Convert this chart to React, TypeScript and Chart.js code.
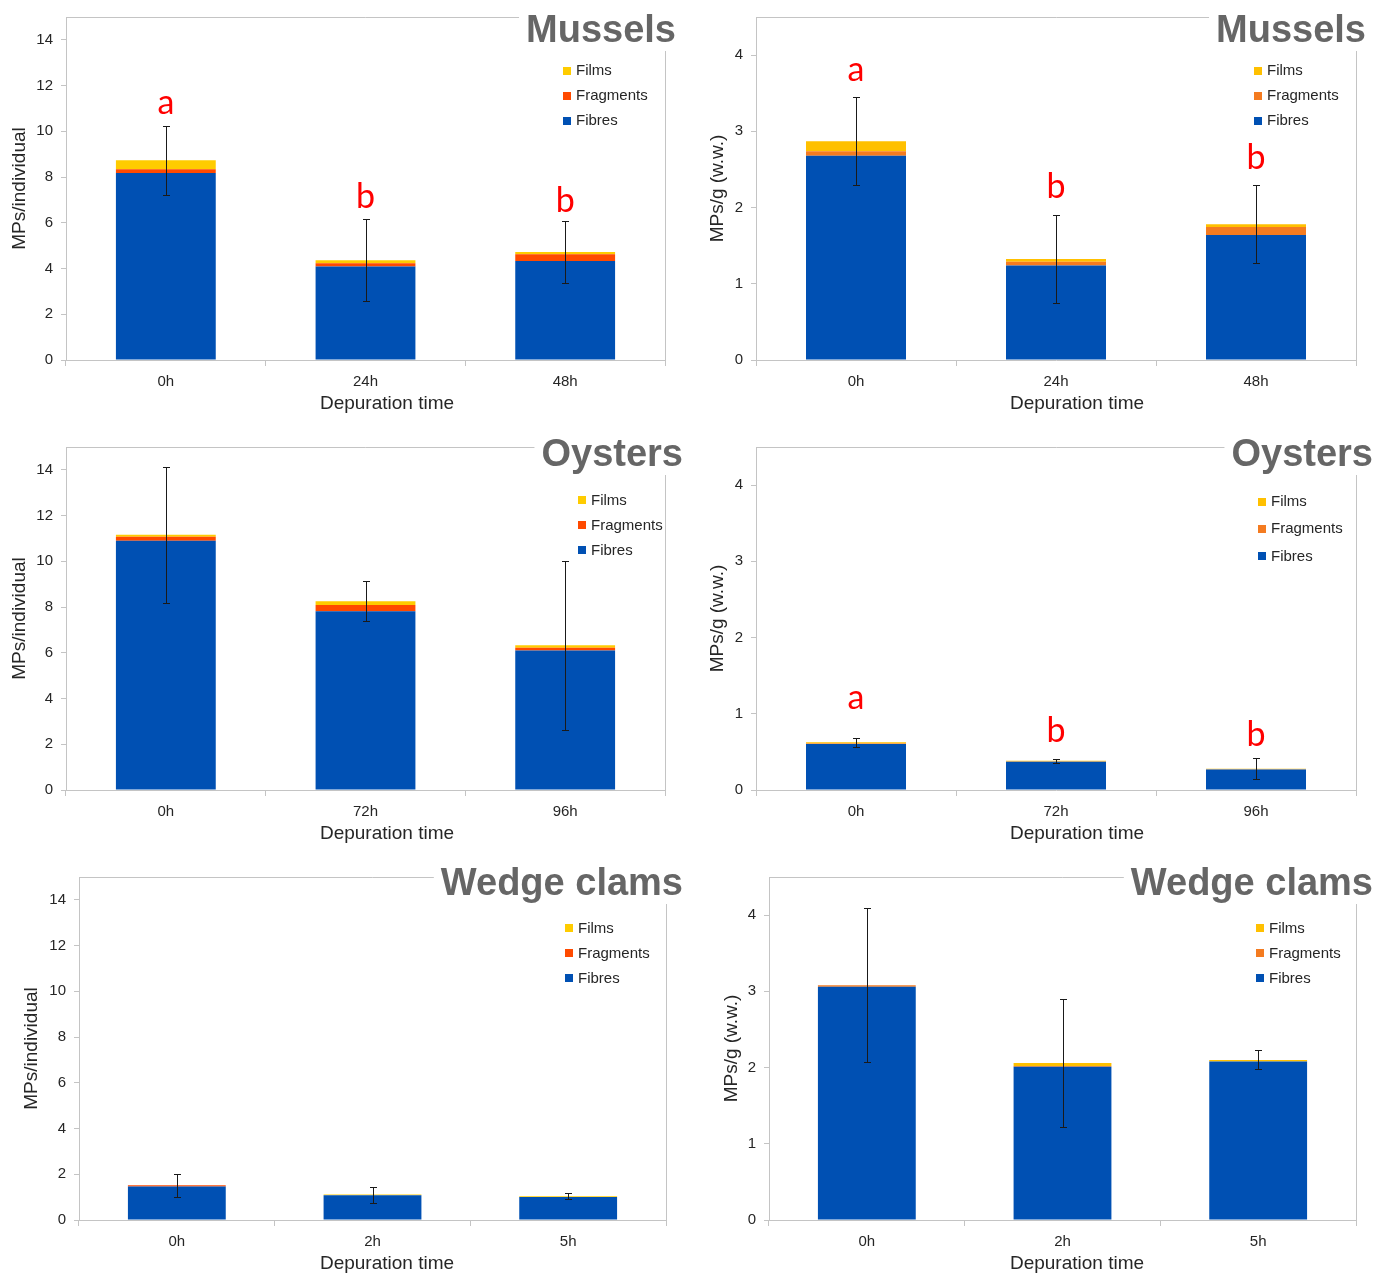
import React, { useEffect, useRef } from 'react';
import { Chart, registerables } from 'chart.js';

Chart.register(...registerables);

// ---------- categories ----------
const musselTimes = ['0h', '24h', '48h'];
const oysterTimes = ['0h', '72h', '96h'];
const clamTimes = ['0h', '2h', '5h'];

// ---------- Mussels, MPs/individual ----------
const musselIndFibres = [8.18, 4.09, 4.33];
const musselIndFragments = [0.16, 0.14, 0.29];
const musselIndFilms = [0.39, 0.13, 0.1];
const musselIndSd = [1.51, 1.79, 1.35];
const musselIndLetters = ['a', 'b', 'b'];
const musselIndLetterY = [10.75, 6.63, 6.46];

// ---------- Mussels, MPs/g (w.w.) ----------
const musselGFibres = [2.68, 1.24, 1.64];
const musselGFragments = [0.06, 0.05, 0.105];
const musselGFilms = [0.13, 0.035, 0.035];
const musselGSd = [0.58, 0.58, 0.51];
const musselGLetters = ['a', 'b', 'b'];
const musselGLetterY = [3.66, 2.13, 2.5];

// ---------- Oysters, MPs/individual ----------
const oysterIndFibres = [10.9, 7.82, 6.1];
const oysterIndFragments = [0.18, 0.27, 0.12];
const oysterIndFilms = [0.08, 0.16, 0.11];
const oysterIndSd = [2.97, 0.87, 3.7];

// ---------- Oysters, MPs/g (w.w.) ----------
const oysterGFibres = [0.605, 0.37, 0.27];
const oysterGFragments = [0.005, 0.003, 0.003];
const oysterGFilms = [0.015, 0.01, 0.007];
const oysterGSd = [0.055, 0.03, 0.14];
const oysterGLetters = ['a', 'b', 'b'];
const oysterGLetterY = [1.06, 0.63, 0.58];

// ---------- Wedge clams, MPs/individual ----------
const clamIndFibres = [1.47, 1.08, 1.01];
const clamIndFragments = [0.05, 0, 0];
const clamIndFilms = [0, 0.03, 0.03];
const clamIndSd = [0.5, 0.35, 0.12];

// ---------- Wedge clams, MPs/g (w.w.) ----------
const clamGFibres = [3.06, 2.01, 2.08];
const clamGFragments = [0.02, 0.01, 0];
const clamGFilms = [0, 0.04, 0.02];
const clamGSd = [1.01, 0.84, 0.125];

// ---------- axis ticks ----------
const indAxisMax = 15;
const indAxisStep = 2;
const gAxisMax = 4.5;
const gAxisStep = 1;

const seriesNames = ['Fibres', 'Fragments', 'Films'];
const leftColors = ['#0050B3', '#FF4A00', '#FFCC00'];
const rightColors = ['#0050B3', '#F47B20', '#FFC000'];

const FRAME = '#c4c4c4';
const TEXT = '#262626';
const FONT = '"Liberation Sans", Arial, sans-serif';

type Layout = {
  x: number; y: number; w: number; h: number;
  left: number; right: number; top: number; bottom: number;
  yTitleX: number; xTitleX: number; xTitleY: number;
  titleRight: number; titleBaseline: number;
  legX: number; legY: number; legGap: number;
};

type Spec = {
  title: string;
  labels: string[];
  fibres: number[]; fragments: number[]; films: number[];
  sd: number[];
  letters?: string[]; letterY?: number[];
  yMax: number; yStep: number; yTitle: string;
  colors: string[];
  layout: Layout;
};

const specs: Spec[] = [
  {
    title: 'Mussels', labels: musselTimes,
    fibres: musselIndFibres, fragments: musselIndFragments, films: musselIndFilms, sd: musselIndSd,
    letters: musselIndLetters, letterY: musselIndLetterY,
    yMax: indAxisMax, yStep: indAxisStep, yTitle: 'MPs/individual', colors: leftColors,
    layout: { x: 0, y: 0, w: 688, h: 430, left: 66, right: 665, top: 14, bottom: 360, yTitleX: 20, xTitleX: 387, xTitleY: 404, titleRight: 676, titleBaseline: 42, legX: 563, legY: 70.5, legGap: 25 },
  },
  {
    title: 'Mussels', labels: musselTimes,
    fibres: musselGFibres, fragments: musselGFragments, films: musselGFilms, sd: musselGSd,
    letters: musselGLetters, letterY: musselGLetterY,
    yMax: gAxisMax, yStep: gAxisStep, yTitle: 'MPs/g (w.w.)', colors: rightColors,
    layout: { x: 688, y: 0, w: 688, h: 430, left: 68, right: 668, top: 14, bottom: 360, yTitleX: 30, xTitleX: 389, xTitleY: 404, titleRight: 678, titleBaseline: 42, legX: 566, legY: 70.5, legGap: 25 },
  },
  {
    title: 'Oysters', labels: oysterTimes,
    fibres: oysterIndFibres, fragments: oysterIndFragments, films: oysterIndFilms, sd: oysterIndSd,
    yMax: indAxisMax, yStep: indAxisStep, yTitle: 'MPs/individual', colors: leftColors,
    layout: { x: 0, y: 430, w: 688, h: 430, left: 66, right: 665, top: 14, bottom: 360, yTitleX: 20, xTitleX: 387, xTitleY: 404, titleRight: 683, titleBaseline: 36, legX: 578, legY: 70, legGap: 25 },
  },
  {
    title: 'Oysters', labels: oysterTimes,
    fibres: oysterGFibres, fragments: oysterGFragments, films: oysterGFilms, sd: oysterGSd,
    letters: oysterGLetters, letterY: oysterGLetterY,
    yMax: gAxisMax, yStep: gAxisStep, yTitle: 'MPs/g (w.w.)', colors: rightColors,
    layout: { x: 688, y: 430, w: 688, h: 430, left: 68, right: 668, top: 14, bottom: 360, yTitleX: 30, xTitleX: 389, xTitleY: 404, titleRight: 685, titleBaseline: 36, legX: 570, legY: 71.5, legGap: 27.3 },
  },
  {
    title: 'Wedge clams', labels: clamTimes,
    fibres: clamIndFibres, fragments: clamIndFragments, films: clamIndFilms, sd: clamIndSd,
    yMax: indAxisMax, yStep: indAxisStep, yTitle: 'MPs/individual', colors: leftColors,
    layout: { x: 0, y: 860, w: 688, h: 413, left: 79, right: 666, top: 14, bottom: 360, yTitleX: 32, xTitleX: 387, xTitleY: 404, titleRight: 683, titleBaseline: 35, legX: 565, legY: 68, legGap: 25 },
  },
  {
    title: 'Wedge clams', labels: clamTimes,
    fibres: clamGFibres, fragments: clamGFragments, films: clamGFilms, sd: clamGSd,
    yMax: gAxisMax, yStep: gAxisStep, yTitle: 'MPs/g (w.w.)', colors: rightColors,
    layout: { x: 688, y: 860, w: 688, h: 413, left: 81, right: 668, top: 14, bottom: 360, yTitleX: 44, xTitleX: 389, xTitleY: 404, titleRight: 685, titleBaseline: 35, legX: 568, legY: 68, legGap: 25 },
  },
];

function buildConfig(spec: Spec, dims: { yWidth: number; xHeight: number }): any {
  const L = spec.layout;
  const series = [spec.fibres, spec.fragments, spec.films];

  const decor = {
    id: 'decor',
    afterDatasetsDraw(chart: any) {
      const { ctx, chartArea: ca, scales } = chart;
      const xs = scales.x;
      const ys = scales.y;
      ctx.save();

      // top & right frame lines
      ctx.strokeStyle = FRAME;
      ctx.lineWidth = 1;
      ctx.beginPath();
      ctx.moveTo(ca.left, Math.round(ca.top) + 0.5);
      ctx.lineTo(Math.round(ca.right) + 0.5, Math.round(ca.top) + 0.5);
      ctx.lineTo(Math.round(ca.right) + 0.5, ca.bottom);
      ctx.stroke();

      // panel title, on a white box that breaks the frame
      ctx.font = `bold 38px ${FONT}`;
      const tw = ctx.measureText(spec.title).width;
      const boxLeft = L.titleRight - tw - 7;
      ctx.fillStyle = '#ffffff';
      ctx.fillRect(boxLeft, 0, chart.width - boxLeft, L.titleBaseline + 9);
      ctx.fillStyle = '#666666';
      ctx.textAlign = 'right';
      ctx.textBaseline = 'alphabetic';
      ctx.fillText(spec.title, L.titleRight, L.titleBaseline);

      // x axis title (offset to the right, as in the original)
      ctx.font = `19px ${FONT}`;
      ctx.fillStyle = TEXT;
      ctx.textAlign = 'center';
      ctx.textBaseline = 'middle';
      ctx.fillText('Depuration time', L.xTitleX, L.xTitleY);

      // error bars around stacked totals
      const n = chart.data.labels.length;
      ctx.strokeStyle = '#1a1a1a';
      ctx.lineWidth = 1;
      for (let i = 0; i < n; i++) {
        let total = 0;
        chart.data.datasets.forEach((d: any) => { total += d.data[i] || 0; });
        const xp = Math.round(xs.getPixelForValue(i)) + 0.5;
        const yt = Math.round(ys.getPixelForValue(total + spec.sd[i])) + 0.5;
        const yb = Math.round(ys.getPixelForValue(Math.max(0, total - spec.sd[i]))) + 0.5;
        ctx.beginPath();
        ctx.moveTo(xp, yt); ctx.lineTo(xp, yb);
        ctx.moveTo(xp - 3.5, yt); ctx.lineTo(xp + 3.5, yt);
        ctx.moveTo(xp - 3.5, yb); ctx.lineTo(xp + 3.5, yb);
        ctx.stroke();
      }

      // significance letters
      if (spec.letters && spec.letterY) {
        ctx.fillStyle = '#FF0000';
        ctx.font = `34px Lato, "Open Sans", sans-serif`;
        ctx.textAlign = 'center';
        ctx.textBaseline = 'alphabetic';
        spec.letters.forEach((t, i) => {
          ctx.fillText(t, xs.getPixelForValue(i), ys.getPixelForValue(spec.letterY![i]));
        });
      }

      // legend (reverse stacking order)
      ctx.font = `15px ${FONT}`;
      ctx.textAlign = 'left';
      ctx.textBaseline = 'middle';
      const ds = chart.data.datasets.slice().reverse();
      ds.forEach((d: any, k: number) => {
        const cy = L.legY + k * L.legGap;
        ctx.fillStyle = d.backgroundColor;
        ctx.fillRect(L.legX, Math.round(cy - 4), 8, 8);
        ctx.fillStyle = TEXT;
        ctx.fillText(d.label, L.legX + 13, cy + 0.5);
      });

      ctx.restore();
    },
  };

  return {
    type: 'bar',
    data: {
      labels: spec.labels,
      datasets: series.map((data, k) => ({
        label: seriesNames[k],
        data,
        backgroundColor: spec.colors[k],
        borderWidth: 0,
        barPercentage: 0.5,
        categoryPercentage: 1.0,
      })),
    },
    options: {
      responsive: false,
      animation: false,
      devicePixelRatio: 1,
      layout: { padding: { left: 0, top: L.top, right: L.w - L.right, bottom: 0 } },
      plugins: { legend: { display: false }, title: { display: false }, tooltip: { enabled: false } },
      scales: {
        x: {
          stacked: true,
          offset: true,
          grid: { offset: true, drawOnChartArea: false, drawTicks: true, tickLength: 6, color: FRAME },
          border: { display: true, color: FRAME, width: 1 },
          ticks: { color: TEXT, font: { family: FONT, size: 15 }, padding: 7 },
          title: { display: false },
          afterFit: (s: any) => { s.height = dims.xHeight; },
        },
        y: {
          stacked: true,
          min: 0,
          max: spec.yMax,
          grid: { drawOnChartArea: false, drawTicks: true, tickLength: 5, color: FRAME },
          border: { display: true, color: FRAME, width: 1 },
          ticks: { stepSize: spec.yStep, includeBounds: false, color: TEXT, font: { family: FONT, size: 15 }, padding: 8 },
          title: {
            display: true, text: spec.yTitle, color: TEXT,
            font: { family: FONT, size: 19, lineHeight: 1 },
            padding: { top: L.yTitleX - 9.5, bottom: 0 },
          },
          afterFit: (s: any) => { s.width = dims.yWidth; },
        },
      },
    },
    plugins: [decor],
  };
}

function Panel({ spec }: { spec: Spec }) {
  const ref = useRef<HTMLCanvasElement>(null);
  useEffect(() => {
    const L = spec.layout;
    const dims = { yWidth: L.left, xHeight: L.h - L.bottom };
    const chart: any = new Chart(ref.current as HTMLCanvasElement, buildConfig(spec, dims));
    // nudge the layout so the plot area sits exactly where the original's does
    for (let it = 0; it < 3; it++) {
      const ca = chart.chartArea;
      const dt = L.top - ca.top;
      const dl = L.left - ca.left;
      const dr = L.right - ca.right;
      const db = L.bottom - ca.bottom;
      if (Math.abs(dt) + Math.abs(dl) + Math.abs(dr) + Math.abs(db) < 0.5) break;
      const p = chart.config.options.layout.padding;
      p.top += dt;
      p.right -= dr;
      dims.yWidth += dl;
      dims.xHeight -= db;
      chart.update();
    }
    return () => chart.destroy();
  }, [spec]);
  const L = spec.layout;
  return (
    <canvas
      ref={ref}
      width={L.w}
      height={L.h}
      style={{ position: 'absolute', left: L.x, top: L.y, width: L.w, height: L.h, display: 'block' }}
    />
  );
}

export default function App() {
  return (
    <div style={{ position: 'absolute', left: 0, top: 0, width: 1376, height: 1273, overflow: 'hidden', background: '#fff' }}>
      {specs.map((s, i) => (
        <Panel key={i} spec={s} />
      ))}
    </div>
  );
}
